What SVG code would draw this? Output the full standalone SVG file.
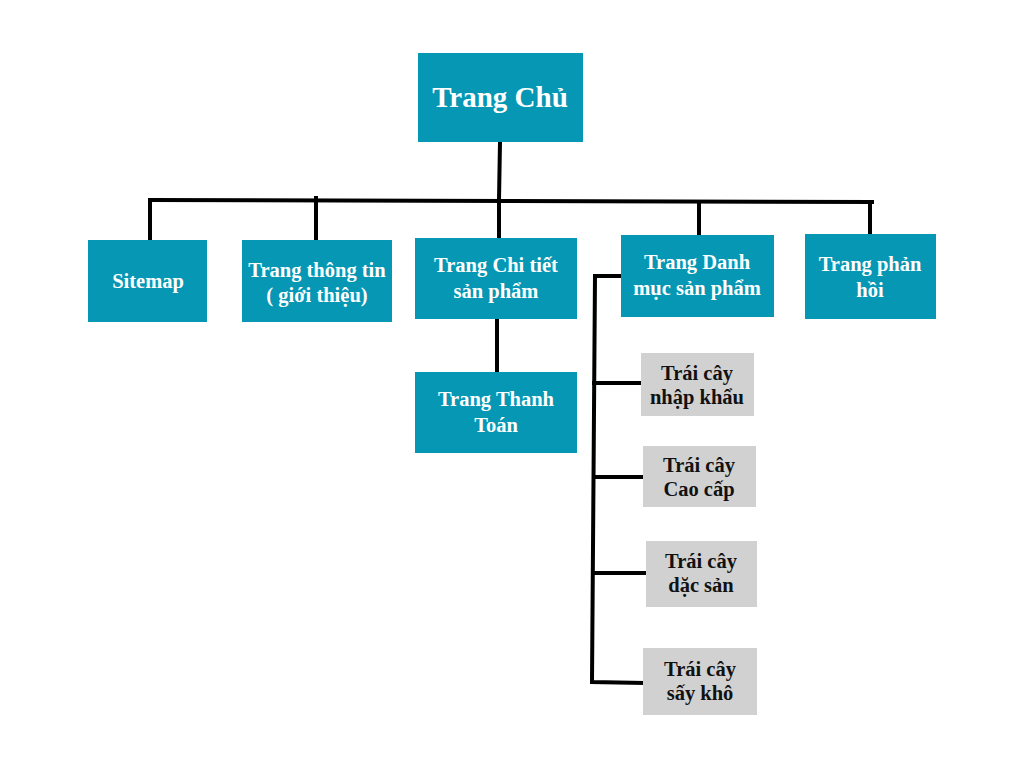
<svg xmlns="http://www.w3.org/2000/svg" width="1024" height="768" viewBox="0 0 1024 768">
<style>
.t{fill:#0597b4}
.g{fill:#d1d1d1}
text{font-family:"Liberation Serif","DejaVu Serif",serif;font-weight:bold;text-anchor:middle}
.w{fill:#ffffff;font-size:20.5px}
.k{fill:#111111;font-size:20.5px}
.c{stroke:#000;stroke-width:4;fill:none;stroke-linecap:square}
</style>
<rect width="1024" height="768" fill="#ffffff"/>
<g id="connectors">
<path class="c" d="M500 142 L499 200"/>
<path class="c" d="M150 200 L872 202"/>
<path class="c" d="M150 200 L150 238"/>
<path class="c" d="M316 198 L316 238"/>
<path class="c" d="M499 200 L499 237"/>
<path class="c" d="M699 202 L699 235"/>
<path class="c" d="M870 202 L870 234"/>
<path class="c" d="M497 319 L497 372"/>
<path class="c" d="M621 276 L595 276 L592 682 L643 683"/>
<path class="c" d="M594 383 L641 383"/>
<path class="c" d="M594 477 L643 477"/>
<path class="c" d="M593 573 L646 573"/>
</g>
<g id="trang-chu"><rect class="t" x="418" y="53" width="165" height="89"/><text class="w" x="500" y="107" style="font-size:29px">Trang Chủ</text></g>
<g id="sitemap"><rect class="t" x="88" y="240" width="119" height="82"/><text class="w" x="148" y="288">Sitemap</text></g>
<g id="trang-thong-tin"><rect class="t" x="242" y="240" width="150" height="82"/><text class="w" x="317" y="277">Trang thông tin</text><text class="w" x="317" y="302">( giới thiệu)</text></g>
<g id="trang-chi-tiet"><rect class="t" x="415" y="238" width="162" height="81"/><text class="w" x="496" y="272">Trang Chi tiết</text><text class="w" x="496" y="298">sản phẩm</text></g>
<g id="trang-thanh-toan"><rect class="t" x="415" y="372" width="162" height="81"/><text class="w" x="496" y="406">Trang Thanh</text><text class="w" x="496" y="432">Toán</text></g>
<g id="trang-danh-muc"><rect class="t" x="621" y="235" width="153" height="82"/><text class="w" x="697" y="269">Trang Danh</text><text class="w" x="697" y="295">mục sản phẩm</text></g>
<g id="trang-phan-hoi"><rect class="t" x="805" y="234" width="131" height="85"/><text class="w" x="870" y="271">Trang phản</text><text class="w" x="870" y="297">hồi</text></g>
<g id="nhap-khau"><rect class="g" x="641" y="353" width="113" height="63"/><text class="k" x="697" y="380">Trái cây</text><text class="k" x="697" y="404">nhập khẩu</text></g>
<g id="cao-cap"><rect class="g" x="643" y="446" width="113" height="61"/><text class="k" x="699" y="472">Trái cây</text><text class="k" x="699" y="496">Cao cấp</text></g>
<g id="dac-san"><rect class="g" x="646" y="541" width="111" height="66"/><text class="k" x="701" y="568">Trái cây</text><text class="k" x="701" y="592">dặc sản</text></g>
<g id="say-kho"><rect class="g" x="643" y="648" width="114" height="67"/><text class="k" x="700" y="676">Trái cây</text><text class="k" x="700" y="700">sấy khô</text></g>
</svg>
